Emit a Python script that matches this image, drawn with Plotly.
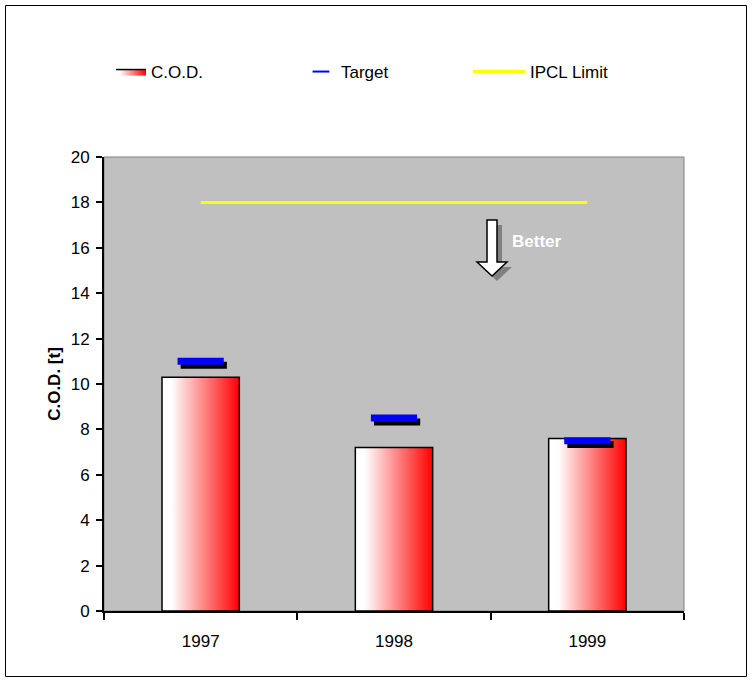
import plotly.graph_objects as go

YEARS = ["1997", "1998", "1999"]
COD = [10.3, 7.2, 7.6]
TARGET = [11.0, 8.5, 7.5]
IPCL_LIMIT = [18, 18, 18]

_FONT = "Liberation Sans, Arial, sans-serif"
W, H = 753, 680
L, T = 104, 157
PW, PH = 580, 454
R, B = W - L - PW, H - T - PH
BAR_HALF = 0.2

fig = go.Figure()

# bars as filled outlines so they can carry a horizontal white->red gradient
for i, v in enumerate(COD):
    fig.add_trace(go.Scatter(
        x=[i - BAR_HALF, i - BAR_HALF, i + BAR_HALF, i + BAR_HALF, i - BAR_HALF],
        y=[0, v, v, 0, 0],
        mode="lines",
        fill="toself",
        fillgradient=dict(
            type="horizontal",
            colorscale=[[0, "#ffffff"], [0.12, "#ffffff"], [1, "#ff0000"]],
        ),
        line=dict(color="#000000", width=1.5),
        name="C.O.D.",
        legend="legend",
        legendgroup="cod",
        showlegend=(i == 0),
        hoverinfo="skip",
    ))

# target dash shadow
fig.add_trace(go.Scatter(
    x=[i + 0.016 for i in range(len(TARGET))],
    y=[t - 0.17 for t in TARGET],
    mode="markers",
    marker=dict(symbol="line-ew", size=33, line=dict(color="#000000", width=7)),
    showlegend=False,
    hoverinfo="skip",
))
fig.add_trace(go.Scatter(
    x=list(range(len(TARGET))),
    y=TARGET,
    mode="markers",
    marker=dict(symbol="line-ew", size=33, line=dict(color="#0000ff", width=7)),
    name="Target",
    legend="legend2",
))

fig.add_trace(go.Scatter(
    x=list(range(len(IPCL_LIMIT))),
    y=IPCL_LIMIT,
    mode="lines",
    line=dict(color="#ffff00", width=3),
    name="IPCL Limit",
    legend="legend3",
))


def px_x(p):
    return (p - L) / PW


def px_y(p):
    return (H - B - p) / PH


# "Better" block arrow: shadow then arrow, path in pixels from the tip
arrow = "M -5,56 L 5,56 L 5,14 L 15,14 L 0,0 L -15,14 L -5,14 Z"
shadow = "M 0,51 L 10,51 L 10,9 L 20,9 L 5,-5 L -10,9 L 0,9 Z"
for path, fill, lw in [(shadow, "#808080", 0), (arrow, "#ffffff", 1.5)]:
    fig.add_shape(
        type="path", path=path,
        xref="paper", yref="paper",
        xsizemode="pixel", ysizemode="pixel",
        xanchor=px_x(492), yanchor=px_y(276),
        fillcolor=fill, line=dict(color="#000000", width=lw),
    )

fig.add_annotation(
    x=px_x(510), y=px_y(241), xref="paper", yref="paper",
    xanchor="left", yanchor="middle", showarrow=False,
    text="<b>Better</b>", font=dict(color="#ffffff", size=17, family=_FONT),
)

# grey frame of plot area
fig.add_shape(type="rect", xref="paper", yref="paper", x0=0, x1=1, y0=0, y1=1,
              line=dict(color="#808080", width=1), layer="below")
# outer chart border
fig.add_shape(type="rect", xref="paper", yref="paper",
              x0=px_x(5.5), x1=px_x(746.5), y0=px_y(676.5), y1=px_y(5.5),
              line=dict(color="#000000", width=1))


def legend_at(xpx, **extra):
    d = dict(
        orientation="h",
        xref="container", yref="container",
        x=xpx / W, y=1 - 72 / H,
        xanchor="left", yanchor="middle",
        bgcolor="rgba(0,0,0,0)",
        font=dict(size=17, family=_FONT),
    )
    d.update(extra)
    return d


fig.update_layout(
    width=W, height=H,
    margin=dict(l=L, r=R, t=T, b=B),
    paper_bgcolor="#ffffff",
    plot_bgcolor="#c0c0c0",
    font=dict(family=_FONT, color="#000000", size=17),
    showlegend=True,
    legend=legend_at(111),
    legend2=legend_at(301, itemsizing="constant"),
    legend3=legend_at(468, itemwidth=52),
    xaxis=dict(
        range=[-0.5, 2.5],
        tickvals=list(range(len(YEARS))),
        ticktext=YEARS,
        ticks="",
        showgrid=False, zeroline=False,
        showline=True, linecolor="#000000", linewidth=2,
        minor=dict(tickvals=[-0.5, 0.5, 1.5, 2.5], ticks="outside",
                   ticklen=7, tickwidth=2, tickcolor="#000000", showgrid=False),
        ticklabelstandoff=14,
        fixedrange=True,
    ),
    yaxis=dict(
        range=[0, 20], dtick=2,
        ticks="outside", ticklen=6, tickwidth=2, tickcolor="#000000",
        ticklabelstandoff=3,
        showgrid=False, zeroline=False,
        showline=True, linecolor="#000000", linewidth=2,
        title=dict(text="<b>C.O.D. [t]</b>", font=dict(size=17), standoff=6),
        fixedrange=True,
    ),
)

# drop the default 8px page margin so the figure sits flush with the window
fig.write_html(
    "out.html",
    config={"displayModeBar": False},
    post_script="document.body.style.margin='0';",
)
